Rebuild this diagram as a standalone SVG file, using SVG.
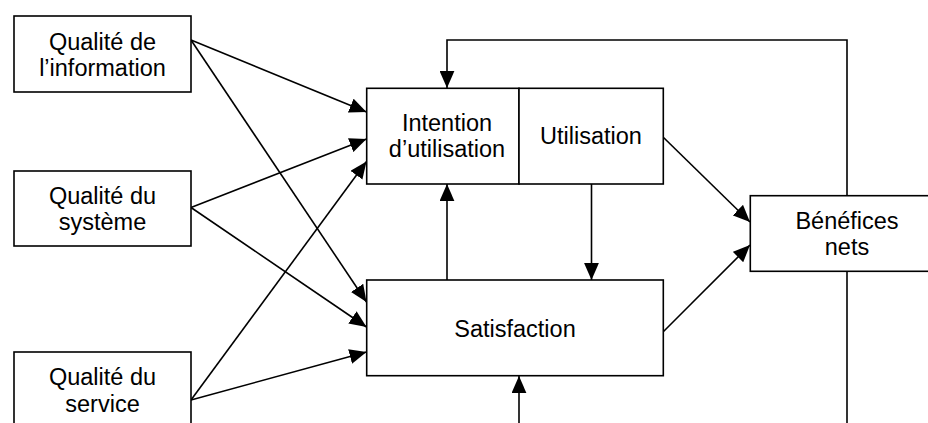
<svg xmlns="http://www.w3.org/2000/svg" width="928" height="423" viewBox="0 0 928 423">
<defs>
<marker id="ah" markerUnits="userSpaceOnUse" markerWidth="17" markerHeight="15" viewBox="0 0 15.5 13.5" refX="15.5" refY="6.75" orient="auto">
<path d="M0,0 L15.5,6.75 L0,13.5 z" fill="#000"/>
</marker>
</defs>
<style>
.box{fill:#fff;stroke:#000;stroke-width:1.6}
.lbl{font-family:"Liberation Sans",Arial,sans-serif;font-size:23.5px;fill:#000;text-anchor:middle}
.c{fill:none;stroke:#000;stroke-width:1.6}
.a{marker-end:url(#ah)}
</style>
<rect width="928" height="423" fill="#fff"/>
<g id="connectors">
<line class="c a" x1="191" y1="40" x2="366.5" y2="112"/>
<line class="c a" x1="191" y1="40" x2="366.5" y2="302"/>
<line class="c a" x1="191" y1="207.5" x2="366.5" y2="139"/>
<line class="c a" x1="191" y1="207.5" x2="366.5" y2="327"/>
<line class="c a" x1="191" y1="400" x2="366.5" y2="161.5"/>
<line class="c a" x1="191" y1="400" x2="366.5" y2="352"/>
<line class="c a" x1="447" y1="280" x2="447" y2="184"/>
<line class="c a" x1="591.5" y1="184" x2="591.5" y2="280"/>
<line class="c a" x1="663" y1="137" x2="750" y2="222"/>
<line class="c a" x1="663" y1="332" x2="750" y2="245"/>
<polyline class="c a" points="847,196 847,40 447,40 447,88"/>
<line class="c" x1="847" y1="271" x2="847" y2="430"/>
<line class="c a" x1="519" y1="430" x2="519" y2="376"/>
</g>
<g id="n-info">
<rect class="box" x="14" y="16" width="177" height="76"/>
<text class="lbl" x="102.5" y="50">Qualité de</text>
<text class="lbl" x="102.5" y="76">l’information</text>
</g>
<g id="n-systeme">
<rect class="box" x="14" y="171" width="177" height="75"/>
<text class="lbl" x="102.5" y="203.5">Qualité du</text>
<text class="lbl" x="102.5" y="229.5">système</text>
</g>
<g id="n-service">
<rect class="box" x="14" y="352" width="177" height="80"/>
<text class="lbl" x="102.5" y="385">Qualité du</text>
<text class="lbl" x="102.5" y="412">service</text>
</g>
<g id="n-intention">
<rect class="box" x="366.7" y="88.3" width="152.3" height="95.7"/>
<text class="lbl" x="447" y="130.7">Intention</text>
<text class="lbl" x="447" y="157.3">d’utilisation</text>
</g>
<g id="n-utilisation">
<rect class="box" x="519" y="88.3" width="144.3" height="95.7"/>
<text class="lbl" x="591" y="144.3">Utilisation</text>
</g>
<g id="n-satisfaction">
<rect class="box" x="366.7" y="280" width="296.6" height="95.7"/>
<text class="lbl" x="515" y="336.7">Satisfaction</text>
</g>
<g id="n-benefices">
<rect class="box" x="750.3" y="195.7" width="195" height="75.6"/>
<text class="lbl" x="847" y="229">Bénéfices</text>
<text class="lbl" x="847" y="255.3">nets</text>
</g>
</svg>
